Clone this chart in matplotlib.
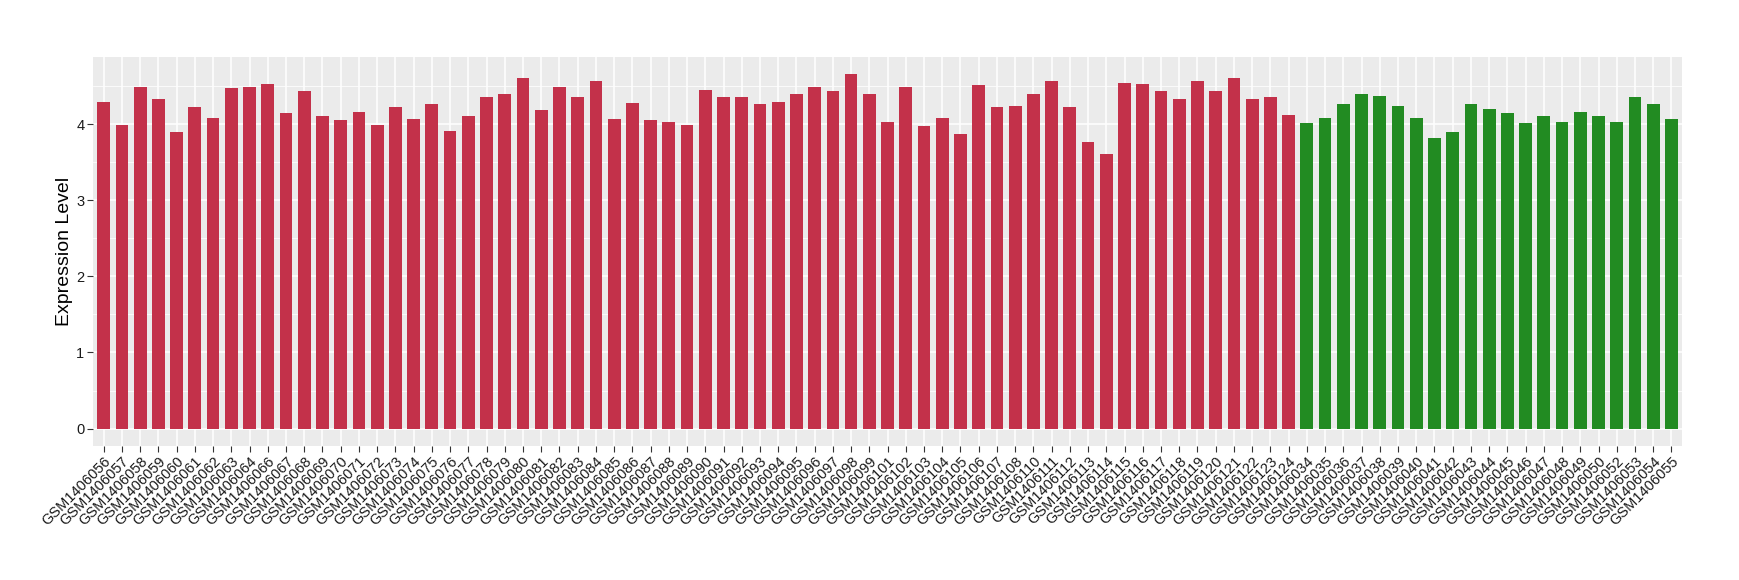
import numpy as np
import matplotlib
matplotlib.use("Agg")
import matplotlib.pyplot as plt

# amostras (grupo 1 = vermelho, grupo 2 = verde)
amostras_g1 = ["GSM1406056", "GSM1406057", "GSM1406058", "GSM1406059", "GSM1406060",
               "GSM1406061", "GSM1406062", "GSM1406063", "GSM1406064", "GSM1406066",
               "GSM1406067", "GSM1406068", "GSM1406069", "GSM1406070", "GSM1406071",
               "GSM1406072", "GSM1406073", "GSM1406074", "GSM1406075", "GSM1406076",
               "GSM1406077", "GSM1406078", "GSM1406079", "GSM1406080", "GSM1406081",
               "GSM1406082", "GSM1406083", "GSM1406084", "GSM1406085", "GSM1406086",
               "GSM1406087", "GSM1406088", "GSM1406089", "GSM1406090", "GSM1406091",
               "GSM1406092", "GSM1406093", "GSM1406094", "GSM1406095", "GSM1406096",
               "GSM1406097", "GSM1406098", "GSM1406099", "GSM1406101", "GSM1406102",
               "GSM1406103", "GSM1406104", "GSM1406105", "GSM1406106", "GSM1406107",
               "GSM1406108", "GSM1406110", "GSM1406111", "GSM1406112", "GSM1406113",
               "GSM1406114", "GSM1406115", "GSM1406116", "GSM1406117", "GSM1406118",
               "GSM1406119", "GSM1406120", "GSM1406121", "GSM1406122", "GSM1406123",
               "GSM1406124"]
valores_g1 = [4.29, 3.99, 4.49, 4.33, 3.89, 4.23, 4.08, 4.47, 4.48, 4.52,
              4.15, 4.43, 4.10, 4.05, 4.16, 3.99, 4.23, 4.06, 4.26, 3.91,
              4.11, 4.35, 4.39, 4.61, 4.18, 4.49, 4.36, 4.56, 4.07, 4.27,
              4.05, 4.03, 3.99, 4.45, 4.36, 4.36, 4.26, 4.29, 4.39, 4.48,
              4.43, 4.66, 4.40, 4.03, 4.49, 3.97, 4.08, 3.87, 4.51, 4.22,
              4.24, 4.40, 4.56, 4.23, 3.76, 3.61, 4.54, 4.52, 4.44, 4.33,
              4.56, 4.44, 4.60, 4.33, 4.35, 4.12]

amostras_g2 = ["GSM1406034", "GSM1406035", "GSM1406036", "GSM1406037", "GSM1406038",
               "GSM1406039", "GSM1406040", "GSM1406041", "GSM1406042", "GSM1406043",
               "GSM1406044", "GSM1406045", "GSM1406046", "GSM1406047", "GSM1406048",
               "GSM1406049", "GSM1406050", "GSM1406052", "GSM1406053", "GSM1406054",
               "GSM1406055"]
valores_g2 = [4.01, 4.08, 4.26, 4.39, 4.37, 4.24, 4.08, 3.82, 3.90, 4.26,
              4.20, 4.14, 4.01, 4.10, 4.03, 4.16, 4.11, 4.02, 4.36, 4.26,
              4.06]

cor_g1 = "#C3314A"
cor_g2 = "#228B22"

amostras = amostras_g1 + amostras_g2
valores = valores_g1 + valores_g2
cores = [cor_g1] * len(amostras_g1) + [cor_g2] * len(amostras_g2)
x = np.arange(len(amostras))

plt.rcParams["font.family"] = ["Liberation Sans", "DejaVu Sans"]

fig = plt.figure(figsize=(17.4, 5.8), dpi=100)
ax = fig.add_axes([0.0533, 0.2316, 0.9136, 0.6706])
ax.set_facecolor("#EBEBEB")

ax.bar(x, valores, width=0.7, color=cores, zorder=3)

# limites no estilo ggplot (expansao)
ymax = max(valores)
ax.set_ylim(-0.048 * ymax, 1.048 * ymax)
ax.set_xlim(-0.6, len(amostras) - 1 + 0.6)

ax.set_yticks([0, 1, 2, 3, 4])
ax.set_yticks(np.arange(0.5, 4.6, 1.0), minor=True)
ax.set_xticks(x)
ax.set_xticklabels(amostras, rotation=45, ha="right", rotation_mode="anchor", fontsize=10.5)
ax.tick_params(axis="y", labelsize=10.5)
ax.tick_params(which="major", length=4, color="#333333", labelcolor="#1A1A1A", pad=2)
ax.tick_params(which="minor", length=0)

ax.grid(which="major", color="white", linewidth=1.1, zorder=0)
ax.grid(which="minor", axis="y", color="white", linewidth=0.55, zorder=0)
ax.set_axisbelow(True)
for s in ax.spines.values():
    s.set_visible(False)

ax.set_ylabel("Expression Level", fontsize=14, labelpad=2)

fig.savefig("out.png", dpi=100)
